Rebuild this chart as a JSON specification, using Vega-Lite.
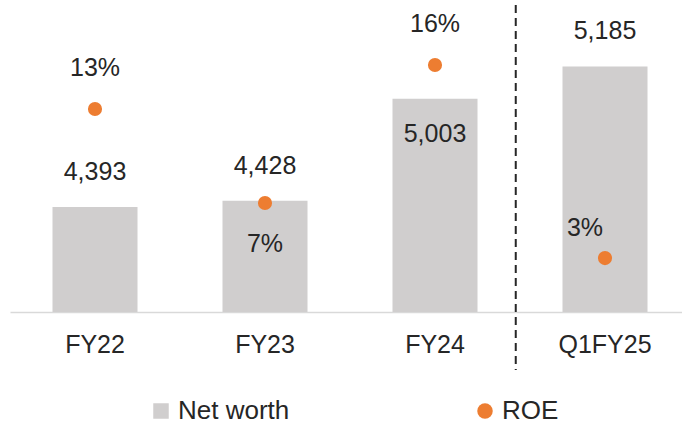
{
  "$schema": "https://vega.github.io/schema/vega-lite/v6.json",
  "width": 680,
  "height": 312,
  "autosize": {"type": "none"},
  "padding": {"left": 10, "top": 0, "right": 0, "bottom": 114},
  "background": "white",
  "config": {
    "view": {"stroke": null},
    "font": "Liberation Sans",
    "text": {"font": "Liberation Sans", "fontSize": 25, "fill": "#262626"}
  },
  "data": {
    "values": [
      {"period": "FY22", "series": "Net worth", "value": 4393},
      {"period": "FY23", "series": "Net worth", "value": 4428},
      {"period": "FY24", "series": "Net worth", "value": 5003},
      {"period": "Q1FY25", "series": "Net worth", "value": 5185},
      {"period": "FY22", "series": "ROE", "value": 0.1307},
      {"period": "FY23", "series": "ROE", "value": 0.068},
      {"period": "FY24", "series": "ROE", "value": 0.1601},
      {"period": "Q1FY25", "series": "ROE", "value": 0.0312}
    ]
  },
  "encoding": {
    "x": {
      "field": "period",
      "type": "nominal",
      "sort": ["FY22", "FY23", "FY24", "Q1FY25"],
      "scale": {"paddingInner": 0.5, "paddingOuter": 0.25},
      "title": null,
      "axis": {
        "labelAngle": 0,
        "labelFontSize": 25,
        "labelColor": "#262626",
        "labelFont": "Liberation Sans",
        "labelPadding": 20,
        "ticks": false,
        "domainColor": "#D9D9D9",
        "domainWidth": 1.5,
        "grid": false
      }
    }
  },
  "layer": [
    {
      "encoding": {
        "y": {
          "field": "value",
          "type": "quantitative",
          "scale": {"domain": [3800, 5560], "zero": false, "nice": false},
          "axis": null
        }
      },
      "layer": [
        {
          "transform": [{"filter": "datum.series === 'Net worth'"}],
          "mark": {"type": "bar"},
          "encoding": {
            "y2": {"datum": 3800},
            "color": {
              "field": "series",
              "type": "nominal",
              "scale": {"domain": ["Net worth", "ROE"], "range": ["#D0CECE", "#ED7D31"]},
              "legend": {
                "title": null,
                "orient": "none",
                "legendX": 138,
                "legendY": 398,
                "direction": "horizontal",
                "columns": 2,
                "columnPadding": 182,
                "labelFontSize": 26,
                "labelColor": "#262626",
                "labelFont": "Liberation Sans",
                "labelOffset": 4,
                "symbolSize": 240,
                "padding": 0
              }
            }
          }
        },
        {
          "transform": [{"filter": "datum.series === 'Net worth' && datum.period !== 'FY24'"}],
          "mark": {"type": "text", "baseline": "middle", "dy": -35},
          "encoding": {"text": {"field": "value", "type": "quantitative", "format": ","}}
        },
        {
          "transform": [{"filter": "datum.series === 'Net worth' && datum.period === 'FY24'"}],
          "mark": {"type": "text", "baseline": "middle", "dy": 35},
          "encoding": {"text": {"field": "value", "type": "quantitative", "format": ","}}
        },
        {
          "transform": [{"filter": "datum.series === 'Net worth' && datum.period === 'FY24'"}],
          "mark": {"type": "rule", "color": "#262626", "strokeWidth": 2, "strokeDash": [8, 5]},
          "encoding": {
            "x": {"field": "period", "type": "nominal", "bandPosition": 1.45},
            "y": {"datum": 5532, "type": "quantitative"},
            "y2": {"datum": 3473}
          }
        }
      ]
    },
    {
      "transform": [{"filter": "datum.series === 'ROE'"}],
      "encoding": {
        "y": {
          "field": "value",
          "type": "quantitative",
          "scale": {"domain": [-0.0048, 0.2035], "zero": false, "nice": false},
          "axis": null
        }
      },
      "layer": [
        {
          "mark": {"type": "point", "filled": true, "opacity": 1, "size": 200},
          "encoding": {
            "color": {"field": "series", "type": "nominal"},
            "shape": {
              "field": "series",
              "type": "nominal",
              "scale": {"domain": ["Net worth", "ROE"], "range": ["square", "circle"]}
            }
          }
        },
        {
          "transform": [{"filter": "datum.period === 'FY22' || datum.period === 'FY24'"}],
          "mark": {"type": "text", "baseline": "middle", "dy": -41},
          "encoding": {"text": {"field": "value", "type": "quantitative", "format": ".0%"}}
        },
        {
          "transform": [{"filter": "datum.period === 'FY23'"}],
          "mark": {"type": "text", "baseline": "middle", "dy": 41},
          "encoding": {"text": {"field": "value", "type": "quantitative", "format": ".0%"}}
        },
        {
          "transform": [{"filter": "datum.period === 'Q1FY25'"}],
          "mark": {"type": "text", "baseline": "middle", "dx": -20, "dy": -30},
          "encoding": {"text": {"field": "value", "type": "quantitative", "format": ".0%"}}
        }
      ]
    }
  ],
  "resolve": {"scale": {"y": "independent"}}
}
